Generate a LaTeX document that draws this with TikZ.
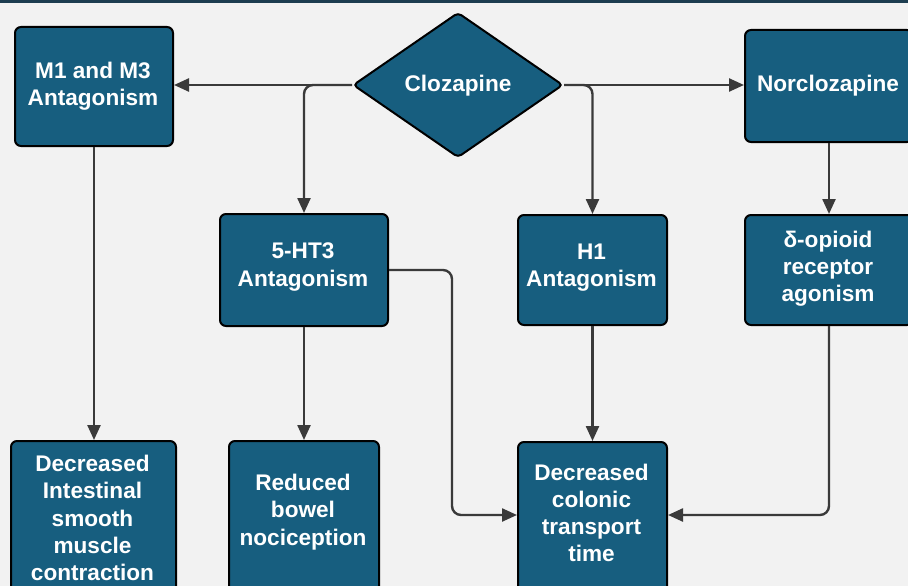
\documentclass[tikz,border=0pt]{standalone}
\usepackage{fontspec}
\setmainfont{Liberation Sans}
\usetikzlibrary{shapes.geometric,arrows.meta,calc}
\definecolor{boxblue}{HTML}{175E7F}
\definecolor{bgcol}{HTML}{F2F2F2}
\definecolor{linecol}{HTML}{3A3A3A}
\definecolor{topbar}{HTML}{1D3D50}
\tikzset{
  boxnode/.style={draw=black, line width=2pt, fill=boxblue, rounded corners=6pt, inner sep=0pt, anchor=north west},
  txtnode/.style={text=white, font=\fontsize{22.6}{27.2}\selectfont\bfseries, align=center, inner sep=0pt},
  conn/.style={draw=linecol, line width=2.4pt, rounded corners=9pt, -{Triangle[length=15pt,width=13pt]}},
}
\begin{document}
\begin{tikzpicture}[x=1pt,y=-1pt]
\useasboundingbox (0,0) rectangle (908,586);
\clip (0,0) rectangle (908,586);
\fill[bgcol] (0,0) rectangle (908,586);
\fill[topbar] (0,0) rectangle (908,3);

% boxes
\node[boxnode, minimum width=158pt, minimum height=119pt] (m1) at (14,26) {};
\node[txtnode] (m1t) at (93,86) {M1 and M3\\Antagonism};

\node[diamond, draw=black, line width=2pt, fill=boxblue, rounded corners=4pt, minimum width=210pt, minimum height=145pt, inner sep=0pt] (cloz) at (458,85) {};
\node[txtnode] (clozt) at (458,86) {Clozapine};

\node[boxnode, minimum width=168pt, minimum height=112pt] (nor) at (744,29) {};
\node[txtnode] (nort) at (828,86) {Norclozapine};

\node[boxnode, minimum width=168pt, minimum height=112pt] (ht3) at (219,213) {};
\node[txtnode] (ht3t) at (303,267) {5-HT3\\Antagonism};

\node[boxnode, minimum width=149pt, minimum height=110pt] (h1) at (517,214) {};
\node[txtnode] (h1t) at (591.5,268) {H1\\Antagonism};

\node[boxnode, minimum width=168pt, minimum height=110pt] (delta) at (744,214) {};
\node[txtnode] (deltat) at (828,269) {δ-opioid\\receptor\\agonism};

\node[boxnode, minimum width=165pt, minimum height=160pt] (dec) at (10,440) {};
\node[txtnode] (dect) at (92.5,518) {Decreased\\Intestinal\\smooth\\muscle\\contraction};

\node[boxnode, minimum width=150pt, minimum height=160pt] (red) at (228,440) {};
\node[txtnode] (redt) at (303,512) {Reduced\\bowel\\nociception};

\node[boxnode, minimum width=149pt, minimum height=160pt] (col) at (517,441) {};
\node[txtnode] (colt) at (591.5,513) {Decreased\\colonic\\transport\\time};

\coordinate (j1) at (452,515);

% connectors
\draw[conn] (cloz.west) -- (cloz.west -| m1.east);
\draw[conn] (cloz.west) -| (ht3.north);
\draw[conn] (cloz.east) -- (cloz.east -| nor.west);
\draw[conn] (cloz.east) -| (h1.north);
\draw[conn] (nor.south) -- (delta.north);
\draw[conn] (m1.south) -- (m1.south |- dec.north);
\draw[conn] (ht3.south) -- (red.north);
\draw[conn] (h1.south) -- (col.north);
\draw[conn] (ht3.east) -| (j1) -- (j1 -| col.west);
\draw[conn] (delta.south) |- (j1 -| col.east);
\end{tikzpicture}
\end{document}
